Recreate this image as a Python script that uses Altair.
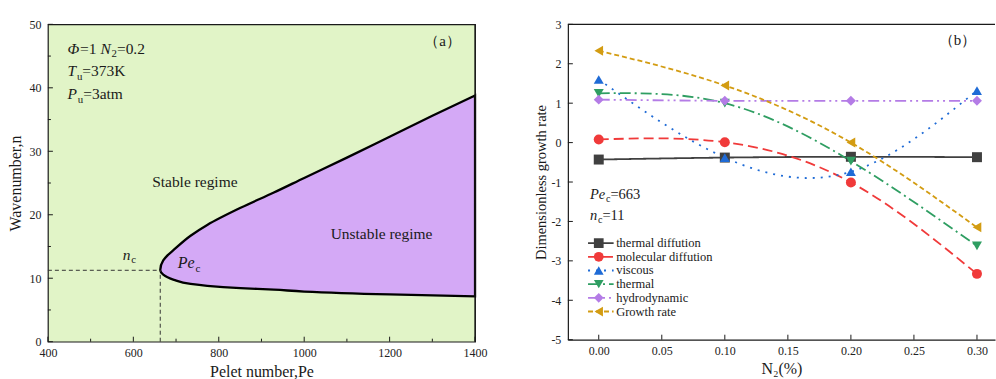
import altair as alt
import pandas as pd

FONT = "'Liberation Serif', 'Times New Roman', Times, serif"
INK = "#1a1a1a"
GREEN = "#e1f4c7"
PURPLE = "#d4a9f6"

# ---------------- panel (a) data ----------------
bnd_n = [7.15, 7.45, 7.9, 8.2, 8.44, 8.8, 9.1, 9.75, 10.15, 10.57, 11.3, 12.8, 13.6,
         14.5, 16.7, 18.4, 21.1, 23.5, 25.8, 29.0, 32.3, 35.6, 38.8]
bnd_pe = [1400, 1200, 1000, 929, 851, 773, 734, 695, 680, 670, 663, 670, 680,
          695, 734, 773, 851, 929, 1000, 1100, 1200, 1300, 1400]
crit_pe = [663]
crit_n = [11.25]
a_x_domain = [400, 1400]
a_y_domain = [0, 50]
a_x_ticks = [400, 600, 800, 1000, 1200, 1400]
a_x_minor = [500, 700, 900, 1100, 1300]
a_y_ticks = [0, 10, 20, 30, 40, 50]
a_y_minor = [5, 15, 25, 35, 45]

# ---------------- panel (b) data ----------------
n2_levels = [0.00, 0.10, 0.20, 0.30]
series_names = ["thermal diffution", "molecular diffution", "viscous",
                "thermal", "hydrodynamic", "Growth rate"]
thermal_diffution = [-0.43, -0.38, -0.36, -0.37]
molecular_diffution = [0.08, 0.01, -1.01, -3.33]
viscous = [1.60, -0.38, -0.74, 1.32]
thermal = [1.25, 1.00, -0.47, -2.62]
hydrodynamic = [1.09, 1.06, 1.06, 1.06]
growth_rate = [2.33, 1.45, 0.00, -2.15]
b_x_domain = [-0.0245, 0.3143]
b_y_domain = [-5, 3]
b_x_ticks = [0.00, 0.05, 0.10, 0.15, 0.20, 0.25, 0.30]
b_y_ticks = [-5, -4, -3, -2, -1, 0, 1, 2, 3]

# ---------------- styles ----------------
series_colors = ["#404040", "#f03a3a", "#1f6bd6", "#2f9e62", "#b47ce6", "#d39c12"]
series_dashes = [[1, 0], [10, 5], [2, 6], [11, 4, 2, 4], [11, 4, 2, 4, 2, 4], [5, 3]]
series_shapes = ["square", "circle", "triangle-up", "triangle-down", "diamond", "triangle-left"]

W_A, H_A = 428, 318
W_B, H_B = 428, 316

# Times/Liberation Serif advance widths (em) for composing rich labels
W_REG = {"=": 0.564, "K": 0.722, "a": 0.444, "t": 0.278, "m": 0.778, ".": 0.25,
         " ": 0.25, "u": 0.5, "c": 0.444}
W_IT = {"T": 0.556, "P": 0.611, "N": 0.667, "n": 0.5, "e": 0.444, "\u03a6": 0.76}


def text_w(s, kind):
    tab = W_IT if kind == "i" else W_REG
    return sum(tab.get(ch, 0.5) for ch in s)


# ======================= axes / scales =======================
AX_AX = alt.Axis(values=a_x_ticks, labelExpr="'' + datum.value",
                 title="Pelet number,Pe", ticks=False, domain=False,
                 grid=False, labelPadding=6, titlePadding=5, labelFlush=False,
                 labelOverlap=False)
AX_AY = alt.Axis(values=a_y_ticks, labelExpr="'' + datum.value",
                 title="Wavenumber,n", ticks=False, domain=False,
                 grid=False, labelPadding=7, titlePadding=5, labelFlush=False,
                 labelOverlap=False)
AX_BX = alt.Axis(values=b_x_ticks, labelExpr="format(datum.value, '.2f')",
                 title="N\u2082(%)", ticks=False, domain=True, domainColor=INK,
                 domainWidth=1.2, grid=False, labelPadding=6, titlePadding=4,
                 labelOverlap=False)
AX_BY = alt.Axis(values=b_y_ticks, labelExpr="'' + datum.value",
                 title="Dimensionless growth rate", titleFontSize=14.5,
                 ticks=False, domain=True, domainColor=INK, domainWidth=1.2,
                 grid=False, labelPadding=7, titlePadding=2, labelFlush=False,
                 labelOverlap=False, labelBound=False)


def XA(f):
    return alt.X(f"{f}:Q", scale=alt.Scale(domain=a_x_domain, nice=False), axis=AX_AX)


def YA(f):
    return alt.Y(f"{f}:Q", scale=alt.Scale(domain=a_y_domain, nice=False), axis=AX_AY)


def XB(f):
    return alt.X(f"{f}:Q", scale=alt.Scale(domain=b_x_domain, nice=False), axis=AX_BX)


def YB(f):
    return alt.Y(f"{f}:Q", scale=alt.Scale(domain=b_y_domain, nice=False), axis=AX_BY)


def rich(pieces, xv, yv, XF, YF, xf, yf, fs):
    layers = []
    dx = 0.0
    for txt, kind in pieces:
        size = fs * 0.7 if kind == "s" else fs
        style = "italic" if kind == "i" else "normal"
        dy = fs * 0.22 if kind == "s" else 0
        df = pd.DataFrame({xf: [xv], yf: [yv], "label": [txt]})
        layers.append(
            alt.Chart(df).mark_text(align="left", baseline="alphabetic", dx=dx, dy=dy,
                                    font=FONT, fontSize=size, fontStyle=style, color=INK)
            .encode(x=XF(xf), y=YF(yf), text="label:N")
        )
        dx += text_w(txt, kind) * size + (0.05 * fs if kind == "i" else 0)
    return layers


def plain(txt, xv, yv, XF, YF, xf, yf, fs, align="center"):
    df = pd.DataFrame({xf: [xv], yf: [yv], "label": [txt]})
    return (alt.Chart(df).mark_text(align=align, baseline="alphabetic", font=FONT,
                                    fontSize=fs, color=INK)
            .encode(x=XF(xf), y=YF(yf), text="label:N"))


def xticks(vals, length, XF, field, H):
    return alt.Chart(pd.DataFrame({field: vals})).mark_rule(color=INK, strokeWidth=1).encode(
        x=XF(field), y=alt.value(H), y2=alt.value(H - length))


def yticks(vals, length, YF, field):
    return alt.Chart(pd.DataFrame({field: vals})).mark_rule(color=INK, strokeWidth=1).encode(
        y=YF(field), x=alt.value(0), x2=alt.value(length))


# ======================= panel (a) =======================
bnd = pd.DataFrame({"Pe": bnd_pe, "n": bnd_n, "Pe_edge": [a_x_domain[1]] * len(bnd_pe)})
crit = pd.DataFrame({"Pe": crit_pe, "n": crit_n,
                     "Pe_left": [a_x_domain[0]], "n_bottom": [a_y_domain[0]]})

area = alt.Chart(bnd).mark_area(color=PURPLE, stroke="black", strokeWidth=2.3,
                                interpolate="monotone", orient="horizontal",
                                opacity=1).encode(x=XA("Pe"), x2="Pe_edge:Q", y=YA("n"))
dash_h = alt.Chart(crit).mark_rule(color="#333", strokeWidth=1, strokeDash=[4, 3]).encode(
    x=XA("Pe_left"), x2="Pe:Q", y=YA("n"))
dash_v = alt.Chart(crit).mark_rule(color="#333", strokeWidth=1, strokeDash=[4, 3]).encode(
    x=XA("Pe"), y=YA("n_bottom"), y2="n:Q")

right_a = alt.Chart(pd.DataFrame({"Pe": [a_x_domain[1]]})).mark_rule(
    color=INK, strokeWidth=1.2).encode(x=XA("Pe"), y=alt.value(0), y2=alt.value(H_A))

fa = 15.5
a_texts = []
a_texts += rich([("\u03a6", "i"), ("=1 ", "r"), ("N", "i"), ("2", "s"), ("=0.2", "r")],
                446, 45.4, XA, YA, "Pe", "n", fa)
a_texts += rich([("T", "i"), ("u", "s"), ("=373K", "r")], 446, 41.8, XA, YA, "Pe", "n", fa)
a_texts += rich([("P", "i"), ("u", "s"), ("=3atm", "r")], 446, 38.2, XA, YA, "Pe", "n", fa)
a_texts += rich([("n", "i"), ("c", "s")], 575, 12.9, XA, YA, "Pe", "n", 15.5)
a_texts += rich([("Pe", "i"), ("c", "s")], 704, 11.6, XA, YA, "Pe", "n", 16)
a_texts.append(plain("Stable regime", 744, 24.4, XA, YA, "Pe", "n", 15.5))
a_texts.append(plain("Unstable regime", 1181, 16.2, XA, YA, "Pe", "n", 15.5))
a_texts.append(plain("\uff08a\uff09", 1324, 46.6, XA, YA, "Pe", "n", 15))

panel_a = alt.layer(
    area, dash_h, dash_v,
    xticks(a_x_ticks, 5, XA, "Pe", H_A), xticks(a_x_minor, 3, XA, "Pe", H_A),
    yticks(a_y_ticks, 5, YA, "n"), yticks(a_y_minor, 3, YA, "n"),
    right_a, *a_texts
).properties(width=W_A, height=H_A,
             view=alt.ViewBackground(fill=GREEN, stroke=INK, strokeWidth=1.2))

# ======================= panel (b) =======================
series_values = [thermal_diffution, molecular_diffution, viscous, thermal, hydrodynamic, growth_rate]
rows = []
for name, vals in zip(series_names, series_values):
    for xv, yv in zip(n2_levels, vals):
        rows.append({"N2": xv, "value": yv, "series": name})
long_b = pd.DataFrame(rows)

col = alt.Color("series:N", scale=alt.Scale(domain=series_names, range=series_colors), legend=None)
dsh = alt.StrokeDash("series:N", scale=alt.Scale(domain=series_names, range=series_dashes), legend=None)
shp = alt.Shape("series:N", scale=alt.Scale(domain=series_names, range=series_shapes), legend=None)

lines_b = alt.Chart(long_b).mark_line(interpolate="natural", strokeWidth=1.8).encode(
    x=XB("N2"), y=YB("value"), color=col, strokeDash=dsh, detail="series:N")
points_b = alt.Chart(long_b).mark_point(filled=True, size=100, opacity=1).encode(
    x=XB("N2"), y=YB("value"), color=col, shape=shp)

# legend (layout positions in data units of panel b)
LEG_TOP, LEG_STEP = -2.55, 0.347
LEG_X0, LEG_X1, LEG_MARK, LEG_TXT = -0.0085, 0.0118, 0.0, 0.0138
nser = len(series_names)
leg = pd.DataFrame({
    "series": series_names,
    "value": [LEG_TOP - i * LEG_STEP for i in range(nser)],
    "N2": [LEG_X0] * nser,
    "N2e": [LEG_X1] * nser,
    "N2m": [LEG_MARK] * nser,
    "N2t": [LEG_TXT] * nser,
})
leg_lines = alt.Chart(leg).mark_rule(strokeWidth=1.8).encode(
    x=XB("N2"), x2="N2e:Q", y=YB("value"), color=col, strokeDash=dsh)
leg_pts = alt.Chart(leg).mark_point(filled=True, size=95, opacity=1).encode(
    x=XB("N2m"), y=YB("value"), color=col, shape=shp)
leg_txt = alt.Chart(leg).mark_text(align="left", baseline="middle", font=FONT, fontSize=12.5,
                                   color=INK).encode(
    x=XB("N2t"), y=YB("value"), text="series:N")

fb = 14.5
b_texts = []
b_texts += rich([("Pe", "i"), ("c", "s"), ("=663", "r")], -0.007, -1.43, XB, YB, "N2", "value", fb)
b_texts += rich([("n", "i"), ("c", "s"), ("=11", "r")], -0.007, -1.96, XB, YB, "N2", "value", fb)
b_texts.append(plain("\uff08b\uff09", 0.2846, 2.47, XB, YB, "N2", "value", 15))

b_xt = xticks(b_x_ticks, 5, XB, "N2", H_B)
b_yt = yticks(b_y_ticks, 5, YB, "value")
top_b = alt.Chart(pd.DataFrame({"k": [0]})).mark_rule(color=INK, strokeWidth=1.2).encode(
    x=alt.value(0), x2=alt.value(W_B), y=alt.value(0))
phantom = alt.Chart(pd.DataFrame({"k": ["\u00a0"]})).mark_text(
    fontSize=10, baseline="bottom", color="white").encode(
    x=alt.value(5), y=alt.value(-2), text="k:N")

panel_b = alt.layer(
    lines_b, points_b, leg_lines, leg_pts, leg_txt, b_xt, b_yt, top_b, phantom, *b_texts
).properties(width=W_B, height=H_B, view=alt.ViewBackground(fill="white", stroke=None))

chart = alt.hconcat(panel_a, panel_b, spacing=46).properties(
    padding={"left": 7, "top": 12, "right": 0, "bottom": 0}
).configure_axis(
    labelFont=FONT, titleFont=FONT, labelFontSize=12, titleFontSize=16,
    labelColor="#222", titleColor=INK, titleFontWeight="normal", labelOverlap=False
).configure_view(strokeWidth=1.2)

chart.save("out.html", embed_options={"renderer": "svg", "actions": False})
